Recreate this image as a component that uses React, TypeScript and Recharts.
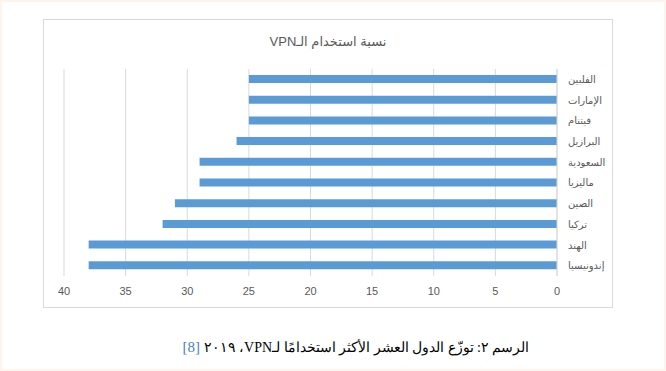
import React from 'react';
import { BarChart, Bar, XAxis, YAxis, CartesianGrid } from 'recharts';

// countries, top to bottom as in the chart
const countries: string[] = [
  'الفلبين',
  'الإمارات',
  'فيتنام',
  'البرازيل',
  'السعودية',
  'ماليزيا',
  'الصين',
  'تركيا',
  'الهند',
  'إندونيسيا',
];

// share of VPN use (%)
const vpnShare: number[] = [25, 25, 25, 26, 29, 29, 31, 32, 38, 38];

const xTicks: number[] = [0, 5, 10, 15, 20, 25, 30, 35, 40];

const chartTitle = 'نسبة استخدام الـVPN';
const captionText = 'الرسم ٢: توزّع الدول العشر الأكثر استخدامًا لـVPN، ٢٠١٩ ';
const captionRef = '[8]';

const data = countries.map((name, i) => ({ name, value: vpnShare[i] }));

const axisFont = '"Liberation Sans", "DejaVu Sans", sans-serif';

export default function App() {
  return (
    <div
      style={{
        position: 'absolute',
        left: 0,
        top: 0,
        width: 666,
        height: 371,
        background: '#ffffff',
        boxSizing: 'border-box',
        border: '2px solid #fdf5ed',
      }}
    >
      <div
        style={{
          position: 'absolute',
          left: 41,
          top: 17,
          width: 568,
          height: 287,
          border: '1px solid #d9d9d9',
          background: '#fff',
        }}
      >
        <div
          dir="rtl"
          style={{
            position: 'absolute',
            top: 14,
            left: 0,
            width: 568,
            textAlign: 'center',
            fontFamily: axisFont,
            fontSize: 13,
            color: '#595959',
          }}
        >
          {chartTitle}
        </div>
        <BarChart
          width={568}
          height={287}
          data={data}
          layout="vertical"
          margin={{ top: 49, right: 0, left: 20, bottom: 0 }}
        >
          <CartesianGrid horizontal={false} stroke="#d9d9d9" />
          <XAxis
            type="number"
            domain={[0, 40]}
            ticks={xTicks}
            reversed
            axisLine={false}
            tickLine={false}
            tickMargin={5}
            height={31}
            tick={{ fill: '#595959', fontSize: 11, fontFamily: axisFont }}
          />
          <YAxis
            type="category"
            dataKey="name"
            orientation="right"
            width={55}
            axisLine={{ stroke: '#d9d9d9' }}
            tickLine={false}
            tickMargin={5}
            interval={0}
            tick={{ fill: '#595959', fontSize: 10, fontFamily: axisFont }}
          />
          <Bar dataKey="value" fill="#5b9bd5" barSize={8} isAnimationActive={false} />
        </BarChart>
      </div>
      <div
        dir="rtl"
        style={{
          position: 'absolute',
          top: 337,
          left: 24,
          width: 660,
          textAlign: 'center',
          fontFamily: '"Liberation Serif", "DejaVu Serif", serif',
          fontSize: 14,
          color: '#000',
        }}
      >
        {captionText}
        <span style={{ color: '#4f81bd', fontSize: 15 }}>{captionRef}</span>
      </div>
    </div>
  );
}
